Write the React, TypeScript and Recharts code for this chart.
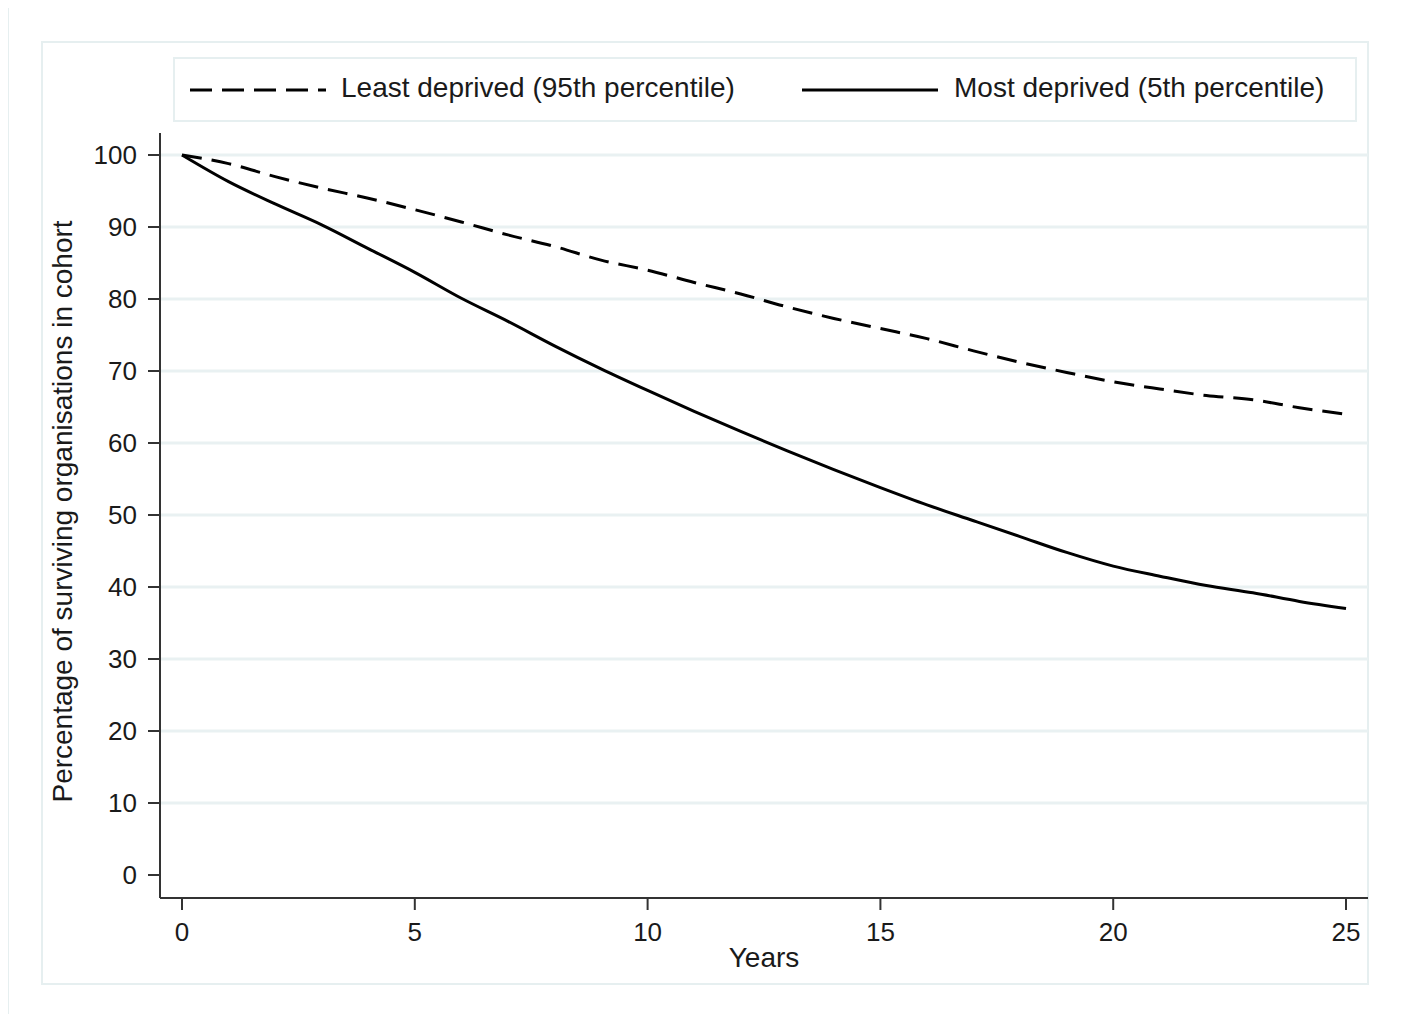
import { Line, LineChart, ReferenceLine, XAxis, YAxis } from 'recharts';

const years = [0, 1, 2, 3, 4, 5, 6, 7, 8, 9, 10, 11, 12, 13, 14, 15, 16, 17, 18, 19, 20, 21, 22, 23, 24, 25];
const leastDeprived = [
  100, 98.8, 97.0, 95.4, 94.0, 92.4, 90.7, 88.9, 87.3, 85.4, 84.0, 82.3, 80.7, 78.9, 77.3, 75.9, 74.5, 72.8, 71.2,
  69.8, 68.5, 67.5, 66.6, 66.0, 64.9, 64.0,
];
const mostDeprived = [
  100, 96.3, 93.2, 90.3, 87.0, 83.7, 80.1, 76.9, 73.5, 70.3, 67.3, 64.4, 61.6, 58.9, 56.3, 53.8, 51.4, 49.2, 47.0,
  44.8, 42.9, 41.5, 40.2, 39.2, 38.0, 37.0,
];
const xTicks = [0, 5, 10, 15, 20, 25];
const yTicks = [0, 10, 20, 30, 40, 50, 60, 70, 80, 90, 100];
const gridLines = [10, 20, 30, 40, 50, 60, 70, 80, 90, 100];

const LEAST_LABEL = 'Least deprived (95th percentile)';
const MOST_LABEL = 'Most deprived (5th percentile)';

const FONT = '"Liberation Sans", Arial, sans-serif';
const FRAME = '#e6eff0';
const AXIS = '#333';
const TEXT = '#1a1a1a';

const data = years.map((y, i) => ({ year: y, least: leastDeprived[i], most: mostDeprived[i] }));

function Legend() {
  return (
    <div
      style={{
        position: 'absolute',
        left: 173,
        top: 57,
        width: 1180,
        height: 61,
        border: `2px solid ${FRAME}`,
        fontFamily: FONT,
        fontSize: 28,
        color: TEXT,
      }}
    >
      <svg width={140} height={20} style={{ position: 'absolute', left: 13, top: 21 }}>
        <line x1={2} y1={10} x2={138} y2={10} stroke="#000" strokeWidth={3} strokeDasharray="22 10" />
      </svg>
      <span style={{ position: 'absolute', left: 166, top: 13, whiteSpace: 'nowrap' }}>{LEAST_LABEL}</span>
      <svg width={140} height={20} style={{ position: 'absolute', left: 625, top: 21 }}>
        <line x1={2} y1={10} x2={138} y2={10} stroke="#000" strokeWidth={3} />
      </svg>
      <span style={{ position: 'absolute', left: 779, top: 13, whiteSpace: 'nowrap' }}>{MOST_LABEL}</span>
    </div>
  );
}

export default function App() {
  return (
    <div
      style={{
        position: 'relative',
        width: 1407,
        height: 1014,
        margin: '-8px 0 0 -8px',
        background: '#fff',
        overflow: 'hidden',
      }}
    >
      {/* outer and inner frames */}
      <div
        style={{
          position: 'absolute',
          left: 6,
          top: 4,
          width: 1396,
          height: 1030,
          border: `3px solid ${FRAME}`,
          boxSizing: 'border-box',
        }}
      />
      <div
        style={{
          position: 'absolute',
          left: 41,
          top: 41,
          width: 1328,
          height: 944,
          border: `2px solid ${FRAME}`,
          boxSizing: 'border-box',
        }}
      />
      <Legend />
      <div style={{ position: 'absolute', left: 0, top: 0 }}>
        <LineChart width={1407} height={1014} data={data} margin={{ top: 133, right: 39, bottom: 56, left: 0 }}>
          {gridLines.map((g) => (
            <ReferenceLine key={g} y={g} stroke="#e9f1f2" strokeWidth={3} />
          ))}
          <XAxis
            dataKey="year"
            type="number"
            domain={[-0.4725, 25.472]}
            ticks={xTicks}
            allowDataOverflow
            height={60}
            tickSize={12}
            tickMargin={13}
            axisLine={{ stroke: AXIS, strokeWidth: 2 }}
            tickLine={{ stroke: AXIS, strokeWidth: 2 }}
            tick={{ fill: TEXT, fontSize: 26, fontFamily: FONT }}
            label={{
              value: 'Years',
              position: 'bottom',
              offset: -11,
              fill: TEXT,
              fontSize: 28,
              fontFamily: FONT,
            }}
          />
          <YAxis
            type="number"
            domain={[-3.194, 103.056]}
            ticks={yTicks}
            allowDataOverflow
            width={160}
            tickSize={12}
            tickMargin={11}
            axisLine={{ stroke: AXIS, strokeWidth: 2 }}
            tickLine={{ stroke: AXIS, strokeWidth: 2 }}
            tick={{ fill: TEXT, fontSize: 26, fontFamily: FONT }}
            label={(props: any) => {
              const vb = props.viewBox || {};
              const cy = (vb.y ?? 133) + (vb.height ?? 765) / 2 - 4;
              return (
                <text
                  x={62}
                  y={cy}
                  transform={`rotate(-90 62 ${cy})`}
                  textAnchor="middle"
                  dominantBaseline="central"
                  fill={TEXT}
                  fontSize={28}
                  fontFamily={FONT}
                >
                  Percentage of surviving organisations in cohort
                </text>
              );
            }}
          />
          <Line
            dataKey="least"
            type="monotone"
            stroke="#000"
            strokeWidth={3}
            strokeDasharray="20 10"
            dot={false}
            isAnimationActive={false}
          />
          <Line dataKey="most" type="monotone" stroke="#000" strokeWidth={3} dot={false} isAnimationActive={false} />
        </LineChart>
      </div>
    </div>
  );
}
